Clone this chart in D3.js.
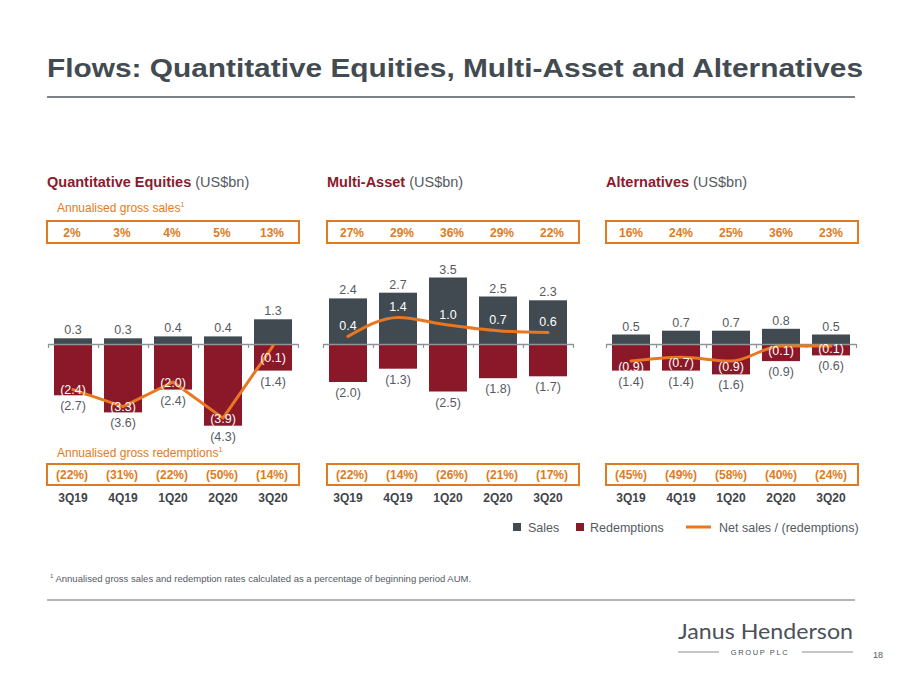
<!DOCTYPE html>
<html><head><meta charset="utf-8">
<script src="https://cdn.jsdelivr.net/npm/d3@7"></script>
<style>
html,body{margin:0;padding:0;background:#fff;}
svg{display:block;font-family:"Liberation Sans",Arial,sans-serif;}
</style></head>
<body>
<svg id="c" width="900" height="675"></svg>
<script>
const quarters = ['3Q19','4Q19','1Q20','2Q20','3Q20'];

const qeSales = [0.3,0.3,0.4,0.4,1.3];
const qeRed   = [-2.7,-3.6,-2.4,-4.3,-1.4];
const qeNet   = [-2.4,-3.3,-2.0,-3.9,-0.1];
const qeSalesRate = ['2%','3%','4%','5%','13%'];
const qeRedRate   = ['(22%)','(31%)','(22%)','(50%)','(14%)'];

const maSales = [2.4,2.7,3.5,2.5,2.3];
const maRed   = [-2.0,-1.3,-2.5,-1.8,-1.7];
const maNet   = [0.4,1.4,1.0,0.7,0.6];
const maSalesRate = ['27%','29%','36%','29%','22%'];
const maRedRate   = ['(22%)','(14%)','(26%)','(21%)','(17%)'];

const altSales = [0.5,0.7,0.7,0.8,0.5];
const altRed   = [-1.4,-1.4,-1.6,-0.9,-0.6];
const altNet   = [-0.9,-0.7,-0.9,-0.1,-0.1];
const altSalesRate = ['16%','24%','25%','36%','23%'];
const altRedRate   = ['(45%)','(49%)','(58%)','(40%)','(24%)'];

const C = {sales:'#414a51', red:'#8b1828', net:'#e87722', orange:'#e07b22', text:'#555a5f', title:'#434b52', maroon:'#8b1a2e', grey:'#8a8f93'};

const svg = d3.select('#c');
svg.append('rect').attr('width',900).attr('height',675).attr('fill','#fff');

// Page title
svg.append('text').attr('x',47).attr('y',77).attr('font-size',26.5).attr('font-weight','bold')
  .attr('fill',C.title).attr('textLength',816).attr('lengthAdjust','spacingAndGlyphs')
  .text('Flows: Quantitative Equities, Multi-Asset and Alternatives');
svg.append('line').attr('x1',47).attr('x2',855).attr('y1',97).attr('y2',97).attr('stroke','#7c8185').attr('stroke-width',2);

const fmt = v => v < 0 ? '(' + d3.format('.1f')(-v) + ')' : d3.format('.1f')(v);

const panels = [
  {name:'Quantitative Equities', x0:48, boxX:47, sales:qeSales, red:qeRed, net:qeNet, sr:qeSalesRate, rr:qeRedRate, curve:d3.curveLinear, netDy:[0,0,0,0,12], notes:true},
  {name:'Multi-Asset', x0:323, boxX:327, sales:maSales, red:maRed, net:maNet, sr:maSalesRate, rr:maRedRate, curve:d3.curveMonotoneX, netDy:[-11,-11,-11,-11,-11]},
  {name:'Alternatives', x0:606, boxX:606, sales:altSales, red:altRed, net:altNet, sr:altSalesRate, rr:altRedRate, curve:d3.curveMonotoneX, netDy:[5,5,5,5,3]}
];

const axisY = 344, pxPerUnit = 19;
const y = d3.scaleLinear().domain([-4.5,3.5]).range([axisY + 4.5*pxPerUnit, axisY - 3.5*pxPerUnit]);

panels.forEach(p => {
  const g = svg.append('g');
  const x = d3.scaleBand().domain(quarters).range([p.x0, p.x0 + 250]).paddingInner(0.24).paddingOuter(0.12);
  const cx = q => x(q) + x.bandwidth()/2;
  const bx = d3.scaleBand().domain(quarters).range([p.boxX, p.boxX + 250]);
  const bcx = q => bx(q) + bx.bandwidth()/2;

  // panel title
  const t = g.append('text').attr('x', p.boxX).attr('y', 187).attr('font-size',14.5);
  t.append('tspan').attr('font-weight','bold').attr('fill',C.maroon).text(p.name);
  t.append('tspan').attr('fill',C.text).text(' (US$bn)');

  // sales-rate box
  g.append('rect').attr('x', p.boxX).attr('y',221).attr('width',252).attr('height',22)
    .attr('fill','none').attr('stroke',C.orange).attr('stroke-width',2);
  g.selectAll('.sr').data(p.sr).join('text').attr('x',(d,i)=>bcx(quarters[i])).attr('y',236.5)
    .attr('text-anchor','middle').attr('font-size',12).attr('font-weight','bold').attr('fill',C.orange).text(d=>d);

  // redemptions-rate box
  g.append('rect').attr('x', p.boxX).attr('y',464).attr('width',252).attr('height',21)
    .attr('fill','none').attr('stroke',C.orange).attr('stroke-width',2);
  g.selectAll('.rr').data(p.rr).join('text').attr('x',(d,i)=>bcx(quarters[i])).attr('y',479)
    .attr('text-anchor','middle').attr('font-size',12).attr('font-weight','bold').attr('fill',C.orange).text(d=>d);

  // quarter labels
  g.selectAll('.ql').data(quarters).join('text').attr('x',d=>cx(d)).attr('y',501.5)
    .attr('text-anchor','middle').attr('font-size',12).attr('font-weight','bold').attr('fill','#3f4449').text(d=>d);

  // bars
  g.selectAll('.sb').data(p.sales).join('rect')
    .attr('x',(d,i)=>x(quarters[i])).attr('width',x.bandwidth())
    .attr('y',d=>y(d)).attr('height',d=>y(0)-y(d)).attr('fill',C.sales);
  g.selectAll('.rb').data(p.red).join('rect')
    .attr('x',(d,i)=>x(quarters[i])).attr('width',x.bandwidth())
    .attr('y',y(0)).attr('height',d=>y(d)-y(0)).attr('fill',C.red);

  // zero axis with tick marks at band boundaries
  const tickScale = d3.scaleLinear().domain([0,5]).range([p.x0, p.x0 + 250]);
  const axis = d3.axisBottom(tickScale).tickValues(d3.range(6)).tickSize(4).tickSizeOuter(0).tickFormat('');
  const ag = g.append('g').attr('transform',`translate(0,${y(0)})`).call(axis);
  ag.select('.domain').attr('stroke','#8e9296').attr('stroke-width',1.5);
  ag.selectAll('.tick line').attr('stroke','#8e9296').attr('stroke-width',1.2);

  // value labels
  g.selectAll('.sl').data(p.sales).join('text').attr('x',(d,i)=>cx(quarters[i])).attr('y',d=>y(d)-4)
    .attr('text-anchor','middle').attr('font-size',12.5).attr('fill',C.text).text(d=>fmt(d));
  g.selectAll('.rl').data(p.red).join('text').attr('x',(d,i)=>cx(quarters[i])).attr('y',d=>y(d)+15)
    .attr('text-anchor','middle').attr('font-size',12.5).attr('fill',C.text).text(d=>fmt(d));

  // net line
  const line = d3.line().x((d,i)=>cx(quarters[i])).y(d=>y(d)).curve(p.curve);
  g.append('path').datum(p.net).attr('d',line).attr('fill','none').attr('stroke',C.net)
    .attr('stroke-width',3).attr('stroke-linejoin','round').attr('stroke-linecap','round');

  g.selectAll('.nl').data(p.net).join('text').attr('x',(d,i)=>cx(quarters[i])).attr('y',(d,i)=>y(d)+p.netDy[i]+4.5)
    .attr('text-anchor','middle').attr('font-size',12.5).attr('fill','#fff').text(d=>fmt(d));

  if (p.notes) {
    const s = g.append('text').attr('x',57).attr('y',212).attr('font-size',12).attr('fill',C.orange);
    s.append('tspan').text('Annualised gross sales');
    s.append('tspan').attr('font-size',7).attr('dy',-5).text('1');
    const r = g.append('text').attr('x',57).attr('y',457).attr('font-size',12).attr('fill',C.orange);
    r.append('tspan').text('Annualised gross redemptions');
    r.append('tspan').attr('font-size',7).attr('dy',-5).text('1');
  }
});

// Legend
const lg = svg.append('g').attr('font-size',12.5).attr('fill',C.text);
lg.append('rect').attr('x',513).attr('y',523).attr('width',8).attr('height',8).attr('fill',C.sales);
lg.append('text').attr('x',528).attr('y',531.5).text('Sales');
lg.append('rect').attr('x',576).attr('y',523).attr('width',8).attr('height',8).attr('fill',C.red);
lg.append('text').attr('x',590).attr('y',531.5).text('Redemptions');
lg.append('line').attr('x1',686).attr('x2',711).attr('y1',527).attr('y2',527).attr('stroke',C.net).attr('stroke-width',3);
lg.append('text').attr('x',719).attr('y',531.5).text('Net sales / (redemptions)');

// Footnote
const fn = svg.append('text').attr('x',50).attr('y',582).attr('font-size',9.5).attr('fill',C.text);
fn.append('tspan').attr('font-size',6).attr('dy',-4).text('1');
fn.append('tspan').attr('dy',4).text(' Annualised gross sales and redemption rates calculated as a percentage of beginning period AUM.');
svg.append('line').attr('x1',47).attr('x2',855).attr('y1',600).attr('y2',600).attr('stroke','#9a9ea2').attr('stroke-width',1.5);

// Logo
svg.append('text').attr('x',678).attr('y',639).attr('font-size',21).attr('font-family','Lato, "Open Sans", sans-serif')
  .attr('fill','#4a5157').attr('textLength',175).attr('lengthAdjust','spacingAndGlyphs').text('Janus Henderson');
svg.append('text').attr('x',760).attr('y',655).attr('text-anchor','middle').attr('font-size',7.5).attr('letter-spacing',1.6)
  .attr('fill','#4a5157').text('GROUP PLC');
svg.append('line').attr('x1',678).attr('x2',719).attr('y1',652).attr('y2',652).attr('stroke','#6a7075').attr('stroke-width',0.8);
svg.append('line').attr('x1',802).attr('x2',853).attr('y1',652).attr('y2',652).attr('stroke','#6a7075').attr('stroke-width',0.8);
svg.append('text').attr('x',873).attr('y',658).attr('font-size',9).attr('fill',C.text).text('18');
</script>
</body></html>
